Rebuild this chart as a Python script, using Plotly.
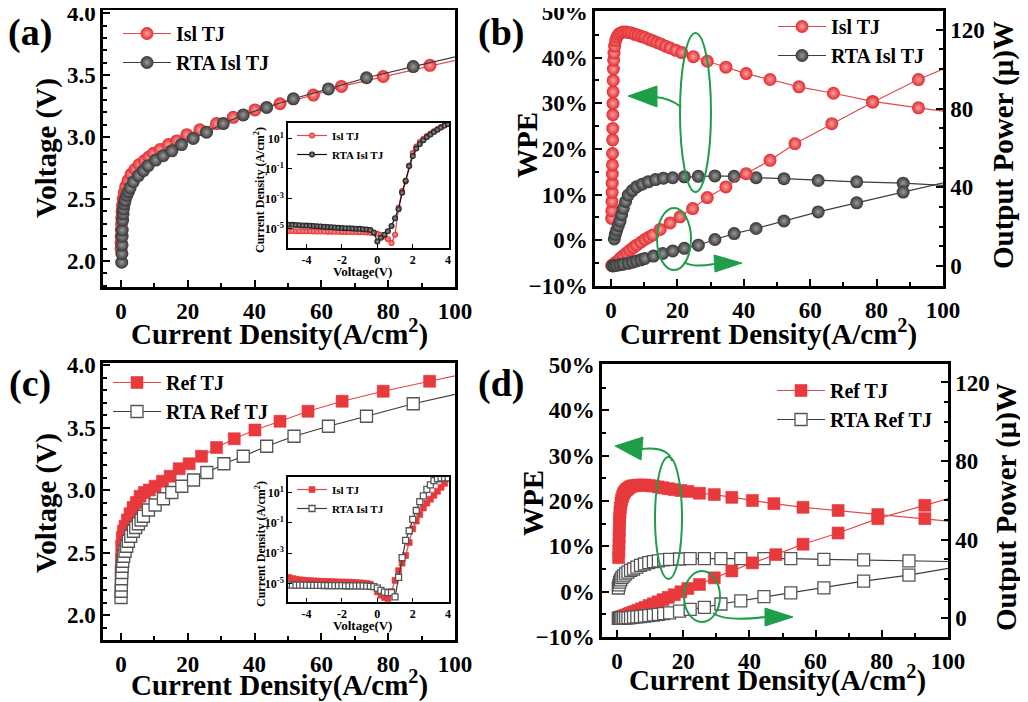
import plotly.graph_objects as go

# page body keeps an 8px margin, so the figure is shifted by OFF and shrunk to fit
OFF = 8
W, H = 1028 - OFF, 702 - OFF
FONT = "Liberation Serif"
RED = "#e8393c"
RED_LINE = "#e04a4a"
GRAY = "#3d3d3d"
GREEN = "#1f9e4a"

# ---- (a) V-J, island TJ ----
a_isl_j = [0.0, 0.02, 0.05, 0.1, 0.15, 0.22, 0.3, 0.45, 0.65, 0.95, 1.4, 2.1, 3.0, 4.2, 5.5,
           7.0, 8.3, 9.7, 11.7, 14.2, 16.7, 19.7, 23.6, 28.6, 33.6, 40.1, 47.6, 57.6, 66.0,
           78.5, 92.5, 108]
a_isl_v = [2.10, 2.15, 2.20, 2.25, 2.30, 2.35, 2.40, 2.45, 2.50, 2.55, 2.60, 2.65, 2.70, 2.74,
           2.78, 2.81, 2.84, 2.87, 2.90, 2.94, 2.97, 3.02, 3.06, 3.11, 3.16, 3.22, 3.27, 3.34,
           3.41, 3.49, 3.58, 3.67]
a_rta_j = [0.2, 0.25, 0.3, 0.32, 0.35, 0.45, 0.6, 0.7, 0.95, 1.2, 1.7, 2.2, 2.7, 3.7, 5.2, 6.7,
           8.1, 10.4, 12.6, 15.2, 18.1, 21.6, 25.6, 30.6, 36.6, 43.6, 51.6, 62.1, 73.5, 87.5, 105]
a_rta_v = [1.99, 2.06, 2.13, 2.20, 2.25, 2.33, 2.38, 2.42, 2.46, 2.49, 2.53, 2.56, 2.59, 2.64,
           2.69, 2.73, 2.77, 2.815, 2.85, 2.89, 2.94, 2.99, 3.04, 3.11, 3.18, 3.24, 3.31, 3.39,
           3.48, 3.57, 3.68]

# ---- (a) inset, log J-V ----
inset_v = [-5.0, -4.8, -4.6, -4.4, -4.2, -4.0, -3.8, -3.6, -3.4, -3.2, -3.0, -2.8, -2.6, -2.4,
           -2.2, -2.0, -1.8, -1.6, -1.4, -1.2, -1.0, -0.8, -0.6, -0.4, -0.2, 0.0, 0.2, 0.4, 0.6,
           0.8, 1.0, 1.2, 1.4, 1.6, 1.8, 2.0, 2.2, 2.4, 2.6, 2.8, 3.0, 3.2, 3.4, 3.6, 3.8, 4.0]
ai_isl_j = [7.0e-6, 6.9e-6, 6.8e-6, 6.8e-6, 6.7e-6, 6.6e-6, 6.6e-6, 6.5e-6, 6.5e-6, 6.4e-6,
            6.4e-6, 6.3e-6, 6.3e-6, 6.2e-6, 6.2e-6, 6.1e-6, 6.1e-6, 6.0e-6, 6.0e-6, 5.9e-6,
            5.8e-6, 5.7e-6, 5.6e-6, 5.4e-6, 5.0e-6, 4.5e-6, 3.8e-6, 3.0e-6, 2.0e-6, 1.1e-6,
            4.0e-6, 2.5e-4, 3.2e-3, 1.4e-2, 0.16, 1.1, 3.0, 6.0, 10, 15, 22, 32, 45, 60, 78, 95]
ai_rta_j = [1.85e-5, 1.8e-5, 1.75e-5, 1.7e-5, 1.65e-5, 1.6e-5, 1.55e-5, 1.5e-5, 1.45e-5, 1.4e-5,
            1.35e-5, 1.3e-5, 1.25e-5, 1.2e-5, 1.15e-5, 1.1e-5, 1.08e-5, 1.05e-5, 1.02e-5, 1.0e-5,
            9.7e-6, 9.3e-6, 8.8e-6, 8.0e-6, 5.5e-6, 1.4e-6, 2.5e-6, 4.0e-6, 6.6e-6, 1.5e-5,
            5.0e-5, 2.0e-4, 2.5e-3, 1.6e-2, 0.15, 0.7, 2.2, 4.5, 8, 13, 19, 28, 40, 56, 75, 95]

# ---- (b) WPE and output power, island TJ ----
b_isl_wpe_j = [0.2, 0.25, 0.3, 0.33, 0.36, 0.4, 0.43, 0.46, 0.5, 0.53, 0.56, 0.6, 0.63, 0.67,
               0.72, 0.8, 0.9, 1.1, 1.4, 1.8, 2.3, 2.9, 3.6, 4.5, 5.3, 6.2, 7.2, 8.2, 9.2, 10.2,
               11.4, 12.6, 13.8, 15.0, 16.4, 17.8, 19.5, 21.3, 24.8, 29.0, 34.6, 40.7, 47.9,
               56.6, 67.0, 78.8, 92.6, 108]
b_isl_wpe = [4.8, 6.5, 8.5, 10.5, 12.5, 14.5, 16.5, 19, 22, 24.5, 27.5, 30, 32.5, 35, 37.5, 39.5,
             41, 42.5, 43.7, 44.5, 45.1, 45.4, 45.6, 45.6, 45.5, 45.4, 45.1, 44.9, 44.6, 44.4,
             44.0, 43.7, 43.3, 43.0, 42.5, 42.1, 41.6, 41.1, 40.2, 39.2, 37.9, 36.5, 35.2, 33.6,
             32.2, 30.4, 29.0, 27.5]
b_isl_pow_j = [0.2, 0.5, 1.0, 1.7, 2.7, 3.7, 4.7, 5.7, 6.7, 7.7, 9.0, 10.2, 11.4, 12.6, 14.8,
               17.8, 20.8, 24.6, 29.0, 34.6, 40.7, 47.9, 55.4, 66.5, 78.8, 92.6, 108]
b_isl_pow = [0.3, 0.6, 1.3, 2.2, 3.8, 5.3, 6.7, 8.1, 9.4, 10.6, 12.1, 13.5, 14.7, 15.8, 18.6,
             21.9, 25.0, 29.2, 34.8, 40.2, 46.9, 53.7, 62.1, 72.3, 83.2, 94.7, 105.8]
b_rta_wpe_j = [1.0, 1.3, 1.7, 2.2, 2.7, 3.2, 3.7, 4.4, 5.2, 6.4, 7.7, 9.4, 11.2, 13.4, 15.8,
               18.6, 22.1, 26.3, 31.3, 37.1, 43.7, 52.1, 62.4, 74.0, 88.0, 104]
b_rta_wpe = [0.3, 1.3, 2.2, 3.2, 4.2, 5.6, 7.0, 8.5, 9.9, 10.9, 11.7, 12.3, 12.8, 13.3, 13.6,
             13.7, 13.9, 14.0, 14.1, 14.0, 13.7, 13.5, 13.1, 12.8, 12.5, 11.9]
b_rta_pow_j = [0.5, 1.0, 1.7, 2.7, 3.7, 5.2, 6.5, 7.7, 9.0, 10.2, 12.8, 15.6, 18.6, 22.1, 26.3,
               31.3, 37.1, 43.7, 52.1, 62.4, 74.0, 88.0, 104]
b_rta_pow = [0.1, 0.2, 0.4, 0.7, 1.0, 1.4, 2.0, 2.6, 3.2, 3.9, 5.1, 6.4, 7.7, 9.0, 10.6, 13.5,
             16.5, 19.1, 22.9, 27.5, 32.1, 37.6, 43.8]

# ---- (c) V-J, reference TJ ----
c_ref_j = [0.0, 0.1, 0.2, 0.4, 0.7, 1.2, 1.9, 2.7, 3.6, 4.6, 5.7, 7.0, 8.5, 10.2, 12.4, 14.7,
           17.4, 20.4, 24.1, 28.6, 33.9, 40.1, 47.6, 56.0, 66.2, 78.5, 92.4, 108]
c_ref_v = [2.35, 2.45, 2.55, 2.62, 2.67, 2.71, 2.76, 2.81, 2.86, 2.90, 2.95, 2.98, 3.00, 3.03,
           3.07, 3.11, 3.17, 3.21, 3.27, 3.34, 3.41, 3.48, 3.55, 3.63, 3.71, 3.79, 3.87, 3.96]
c_rta_j = [0.0, 0.05, 0.1, 0.15, 0.25, 0.35, 0.5, 0.8, 1.2, 1.7, 2.2, 2.9, 3.7, 4.4, 5.2, 6.0,
           6.7, 8.2, 10.2, 12.7, 15.2, 18.2, 21.7, 25.7, 30.8, 36.6, 43.6, 51.8, 62.1, 73.5,
           87.5, 104]
c_rta_v = [2.14, 2.19, 2.24, 2.29, 2.34, 2.39, 2.43, 2.47, 2.51, 2.55, 2.59, 2.63, 2.67, 2.70,
           2.73, 2.76, 2.79, 2.84, 2.88, 2.93, 2.98, 3.03, 3.08, 3.14, 3.21, 3.27, 3.35, 3.43,
           3.51, 3.59, 3.69, 3.79]

# ---- (c) inset ----
ci_ref_j = [2.5e-5, 2.1e-5, 1.9e-5, 1.75e-5, 1.65e-5, 1.58e-5, 1.52e-5, 1.47e-5, 1.43e-5,
            1.4e-5, 1.37e-5, 1.34e-5, 1.31e-5, 1.28e-5, 1.26e-5, 1.24e-5, 1.22e-5, 1.2e-5,
            1.17e-5, 1.14e-5, 1.1e-5, 1.06e-5, 1.0e-5, 9.0e-6, 6.0e-6, 2.8e-6, 1.7e-6, 1.2e-6,
            1.0e-6, 3.0e-6, 1.6e-5, 7.0e-5, 2.2e-4, 7.0e-4, 5.0e-3, 4.0e-2, 0.13, 0.35, 0.95,
            2.0, 3.6, 6.5, 12, 22, 40, 80]
ci_rta_j = [8.0e-6, 7.9e-6, 7.8e-6, 7.8e-6, 7.7e-6, 7.7e-6, 7.6e-6, 7.6e-6, 7.5e-6, 7.5e-6,
            7.4e-6, 7.4e-6, 7.3e-6, 7.3e-6, 7.2e-6, 7.2e-6, 7.1e-6, 7.1e-6, 7.0e-6, 7.0e-6,
            7.0e-6, 6.9e-6, 6.8e-6, 6.6e-6, 6.2e-6, 5.0e-6, 3.5e-6, 2.7e-6, 2.5e-6, 2.5e-6,
            1.3e-6, 2.5e-5, 5.0e-4, 7.0e-3, 3.0e-2, 0.17, 0.65, 2.5, 6, 16, 32, 60, 80, 90, 92, 93]

# ---- (d) WPE and output power, reference TJ ----
d_ref_wpe_j = [0.5, 0.55, 0.6, 0.65, 0.7, 0.75, 0.8, 0.9, 1.0, 1.2, 1.4, 1.7, 2.0, 2.4, 2.9, 3.4,
               4.0, 4.7, 5.5, 6.4, 7.4, 8.5, 9.7, 11.0, 12.4, 13.9, 15.5, 17.3, 19.3, 21.4, 24.9,
               29.4, 34.7, 40.9, 47.4, 56.2, 66.8, 78.8, 93.0, 108]
d_ref_wpe = [7.5, 9, 10.5, 12, 13.5, 15, 16.3, 17.5, 18.5, 19.5, 20.3, 21.0, 21.6, 22.1, 22.5,
             22.8, 23.1, 23.3, 23.4, 23.5, 23.5, 23.5, 23.4, 23.3, 23.1, 22.9, 22.7, 22.5, 22.3,
             22.1, 21.7, 21.4, 20.8, 20.1, 19.4, 18.6, 17.9, 17.0, 16.1, 15.0]
d_ref_pow_j = [0.5, 0.6, 0.7, 0.8, 1.0, 1.2, 1.4, 1.7, 2.0, 2.4, 2.9, 3.4, 4.0, 4.7, 5.5, 6.4,
               7.4, 8.5, 9.7, 11.0, 12.4, 13.9, 15.5, 17.3, 19.3, 21.4, 24.9, 29.4, 34.7, 40.9,
               48.0, 56.2, 66.8, 78.8, 93.0, 108]
d_ref_pow = [0.1, 0.2, 0.2, 0.3, 0.5, 0.6, 0.7, 0.9, 1.1, 1.4, 1.7, 2.1, 2.5, 3.0, 3.5, 4.1,
             4.8, 5.6, 6.5, 7.4, 8.4, 9.5, 10.7, 12.0, 13.5, 15.2, 17.2, 20.6, 24.1, 28.2, 32.4,
             37.7, 43.4, 50.7, 57.5, 64.7]
d_rta_j = [0.4, 0.6, 0.8, 1.1, 1.5, 2.0, 2.6, 3.3, 4.1, 5.0, 6.0, 7.1, 8.3, 9.6, 11.0, 12.5,
           14.1, 15.9, 18.9, 22.1, 26.4, 31.4, 37.4, 44.4, 52.5, 62.5, 74.5, 88.2, 104]
d_rta_wpe = [0.8, 1.5, 2.1, 2.6, 3.1, 3.5, 3.9, 4.3, 4.7, 5.0, 5.4, 5.8, 6.1, 6.4, 6.6, 6.8, 7.0,
             7.1, 7.2, 7.3, 7.3, 7.3, 7.3, 7.3, 7.3, 7.1, 7.0, 6.8, 6.6]
d_rta_pow = [0.0, 0.0, 0.1, 0.1, 0.1, 0.2, 0.2, 0.3, 0.4, 0.6, 0.7, 0.9, 1.1, 1.4, 1.7, 2.0, 2.4,
             2.8, 3.7, 4.6, 5.6, 7.3, 8.9, 11.0, 13.0, 15.5, 18.9, 22.0, 26.5]

inset_xticks = [-4, -2, 0, 2, 4]
inset_xtext = ["-4", "-2", "0", "2", "4"]
inset_yticks = [1e1, 1e-1, 1e-3, 1e-5]
inset_ytext = ["10<sup>1</sup>", "10<sup>-1</sup>", "10<sup>-3</sup>", "10<sup>-5</sup>"]


def fx(p):
    return (p - OFF) / W


def fy(p):
    return 1 - (p - OFF) / H


def ball(color, center, size=13):
    return dict(symbol="circle", size=size, color=color,
                gradient=dict(type="radial", color=center), line=dict(width=0))


RED_BALL = ("#e32b2f", "#f7a0a0")
GRAY_BALL = ("#363636", "#9a9a9a")


def sq_fill(size=12):
    return dict(symbol="square", size=size, color=RED, line=dict(width=0.6, color=RED))


def sq_open(size=12):
    return dict(symbol="square", size=size, color="white", line=dict(width=1.3, color="#555555"))


fig = go.Figure()


def add(x, y, xa, ya, marker, lcolor, name, legend, show=True):
    fig.add_trace(go.Scatter(x=x, y=y, xaxis=xa, yaxis=ya, mode="lines+markers", name=name,
                             marker=marker, line=dict(color=lcolor, width=1.2),
                             legend=legend, showlegend=show))


# (a)
add(a_isl_j, a_isl_v, "x", "y", ball(*RED_BALL), RED_LINE, "Isl TJ", "legend")
add(a_rta_j, a_rta_v, "x", "y", ball(*GRAY_BALL), GRAY, "RTA Isl TJ", "legend")
# (a) inset
add(inset_v, ai_isl_j, "x5", "y5", ball(*RED_BALL, size=6), RED_LINE, "Isl TJ", "legend5")
add(inset_v, ai_rta_j, "x5", "y5", ball("#111111", "#999999", size=6), "#111111", "RTA Isl TJ", "legend5")
# (b)
add(b_isl_wpe_j, b_isl_wpe, "x2", "y2", ball(*RED_BALL), RED_LINE, "Isl TJ", "legend2")
add(b_rta_wpe_j, b_rta_wpe, "x2", "y2", ball(*GRAY_BALL), GRAY, "RTA Isl TJ", "legend2")
add(b_isl_pow_j, b_isl_pow, "x2", "y7", ball(*RED_BALL), RED_LINE, "Isl TJ", "legend2", False)
add(b_rta_pow_j, b_rta_pow, "x2", "y7", ball(*GRAY_BALL), GRAY, "RTA Isl TJ", "legend2", False)
# (c)
add(c_ref_j, c_ref_v, "x3", "y3", sq_fill(), RED_LINE, "Ref TJ", "legend3")
add(c_rta_j, c_rta_v, "x3", "y3", sq_open(), GRAY, "RTA Ref TJ", "legend3")
# (c) inset
add(inset_v, ci_ref_j, "x6", "y6", sq_fill(6), RED_LINE, "Isl TJ", "legend6")
add(inset_v, ci_rta_j, "x6", "y6", sq_open(6), GRAY, "RTA Isl TJ", "legend6")
# (d)
add(d_ref_wpe_j, d_ref_wpe, "x4", "y4", sq_fill(), RED_LINE, "Ref TJ", "legend4")
add(d_rta_j, d_rta_wpe, "x4", "y4", sq_open(), GRAY, "RTA Ref TJ", "legend4")
add(d_ref_pow_j, d_ref_pow, "x4", "y8", sq_fill(), RED_LINE, "Ref TJ", "legend4", False)
add(d_rta_j, d_rta_pow, "x4", "y8", sq_open(), GRAY, "RTA Ref TJ", "legend4", False)

TICKFONT = dict(family=FONT, size=23, color="black", weight="bold")


def axis(x0, x1, rng, dtick, mdtick, anchor, **kw):
    d = dict(domain=[x0, x1], range=rng, dtick=dtick, tick0=0, anchor=anchor,
             ticks="inside", ticklen=7, tickwidth=2, tickcolor="black",
             minor=dict(dtick=mdtick, tick0=0, ticks="inside", ticklen=4, tickwidth=1.5,
                        tickcolor="black"),
             showline=True, linewidth=2.5, linecolor="black", mirror=True, automargin=False,
             showgrid=False, zeroline=False, tickfont=TICKFONT, ticklabeloverflow="allow")
    d.update(kw)
    return d


def inset_axis(x0, x1, rng, anchor, **kw):
    d = dict(domain=[x0, x1], range=rng, anchor=anchor, ticks="inside", ticklen=4,
             tickwidth=1.2, tickcolor="black", showline=True, linewidth=1.5,
             linecolor="black", mirror=True, showgrid=False, zeroline=False, automargin=False,
             ticklabeloverflow="allow",
             tickfont=dict(family=FONT, size=12, color="black", weight="bold"))
    d.update(kw)
    return d


fig.update_layout(
    template="none",
    width=W, height=H, margin=dict(l=0, r=0, t=0, b=0, autoexpand=False),
    paper_bgcolor="white", plot_bgcolor="white",
    xaxis=axis(fx(103), fx(455), [-5.4, 100], 20, 10, "y", ticklabelstandoff=2),
    yaxis=axis(fy(287), fy(10), [1.79, 4.027], 0.5, 0.1, "x", tickformat=".1f"),
    xaxis2=axis(fx(595), fx(943), [-4.82, 100], 20, 10, "y2", ticklabelstandoff=2),
    yaxis2=axis(fy(286), fy(11), [-10, 50.2], 10, 5, "x2", ticksuffix="%"),
    yaxis7=axis(fy(286), fy(11), [-10.1, 129.5], 40, 10, "x2", overlaying="y2",
                side="right", mirror=False),
    xaxis3=axis(fx(103), fx(455), [-5.4, 100], 20, 10, "y3", ticklabelstandoff=2),
    yaxis3=axis(fy(640), fy(363), [1.8, 4.016], 0.5, 0.1, "x3", tickformat=".1f"),
    xaxis4=axis(fx(602), fx(948), [-4.53, 100], 20, 10, "y4", ticklabelstandoff=2),
    yaxis4=axis(fy(637), fy(364), [-10, 50.2], 10, 5, "x4", ticksuffix="%"),
    yaxis8=axis(fy(637), fy(364), [-9.5, 129.4], 40, 10, "x4", overlaying="y4",
                side="right", mirror=False),
    xaxis5=inset_axis(fx(288), fx(449), [-5.05, 4.05], "y5", ticklabelstandoff=0,
                      tickvals=inset_xticks, ticktext=inset_xtext),
    yaxis5=inset_axis(fy(248), fy(123), [-6.29, 2.05], "x5", type="log",
                      tickvals=inset_yticks, ticktext=inset_ytext),
    xaxis6=inset_axis(fx(288), fx(449), [-5.05, 4.05], "y6", ticklabelstandoff=0,
                      tickvals=inset_xticks, ticktext=inset_xtext),
    yaxis6=inset_axis(fy(602), fy(477), [-6.22, 2.02], "x6", type="log",
                      tickvals=inset_yticks, ticktext=inset_ytext),
)

LEGFONT = dict(family=FONT, size=20, color="black", weight="bold")
SMALLLEG = dict(family=FONT, size=11, color="black", weight="bold")
for key, x, y, f, iw in [("legend", 118, 14, LEGFONT, 48), ("legend2", 773, 7, LEGFONT, 48),
                         ("legend3", 108, 363, LEGFONT, 48), ("legend4", 772, 371, LEGFONT, 48),
                         ("legend5", 292, 121, SMALLLEG, 30), ("legend6", 292, 475, SMALLLEG, 30)]:
    fig.update_layout({key: dict(x=fx(x), y=fy(y), xanchor="left", yanchor="top", font=f,
                                 bgcolor="rgba(0,0,0,0)", borderwidth=0, tracegroupgap=0,
                                 traceorder="normal", itemwidth=iw)})

annots = []


def text(t, x, y, size, angle=0):
    annots.append(dict(text=t, x=fx(x), y=fy(y), xref="paper", yref="paper", showarrow=False,
                       xanchor="center", yanchor="middle", textangle=angle,
                       font=dict(family=FONT, size=size, color="black", weight="bold")))


XT = "Current Density(A/cm<sup>2</sup>)"
text("(a)", 30, 33, 38)
text("(b)", 501, 33, 38)
text("(c)", 30, 383, 38)
text("(d)", 501, 383, 38)
text(XT, 279, 332, 29)
text(XT, 768, 332, 29)
text(XT, 279, 683, 29)
text(XT, 777, 678, 29)
text("Voltage (V)", 46, 148, 29, -90)
text("Voltage (V)", 46, 503, 29, -90)
text("WPE", 527, 145, 29, -90)
text("WPE", 533, 503, 29, -90)
text("Output Power (μ)W", 1003, 145, 29, -90)
text("Output Power (μ)W", 1007, 507, 29, -90)
for dy in (0, 354):
    text("Current Density (A/cm<sup>2</sup>)", 260, 190 + dy, 12, -90)
    text("Voltage(V)", 362, 271 + dy, 13)
fig.update_layout(annotations=annots)

shapes = []


def ellipse(x0, x1, y0, y1):
    shapes.append(dict(type="circle", xref="paper", yref="paper", x0=fx(x0), x1=fx(x1),
                       y0=fy(y1), y1=fy(y0), line=dict(color=GREEN, width=2)))


def curve(p0, c, p1):
    path = "M{},{} Q{},{} {},{}".format(fx(p0[0]), fy(p0[1]), fx(c[0]), fy(c[1]),
                                         fx(p1[0]), fy(p1[1]))
    shapes.append(dict(type="path", xref="paper", yref="paper", path=path,
                       line=dict(color=GREEN, width=2)))


def head(tip, b1, b2):
    path = "M{},{} L{},{} L{},{} Z".format(fx(tip[0]), fy(tip[1]), fx(b1[0]), fy(b1[1]),
                                           fx(b2[0]), fy(b2[1]))
    shapes.append(dict(type="path", xref="paper", yref="paper", path=path,
                       fillcolor=GREEN, line=dict(color=GREEN, width=1)))


# (b)
ellipse(680, 711, 33, 192)
curve((681, 107), (670, 98), (655, 97))
head((628, 96), (657, 86), (657, 107))
ellipse(657, 691, 208, 270)
curve((684, 262), (692, 268), (714, 264))
head((742, 263), (714, 255), (715, 272))
# (d)
ellipse(655, 682, 457, 579)
curve((672, 461), (668, 446), (641, 449))
head((615, 446), (643, 437), (641, 460))
ellipse(684, 720, 571, 622)
curve((713, 613), (725, 622), (765, 617))
head((793, 617), (765, 608), (765, 626))
fig.update_layout(shapes=shapes)

fig.write_html("out.html")
